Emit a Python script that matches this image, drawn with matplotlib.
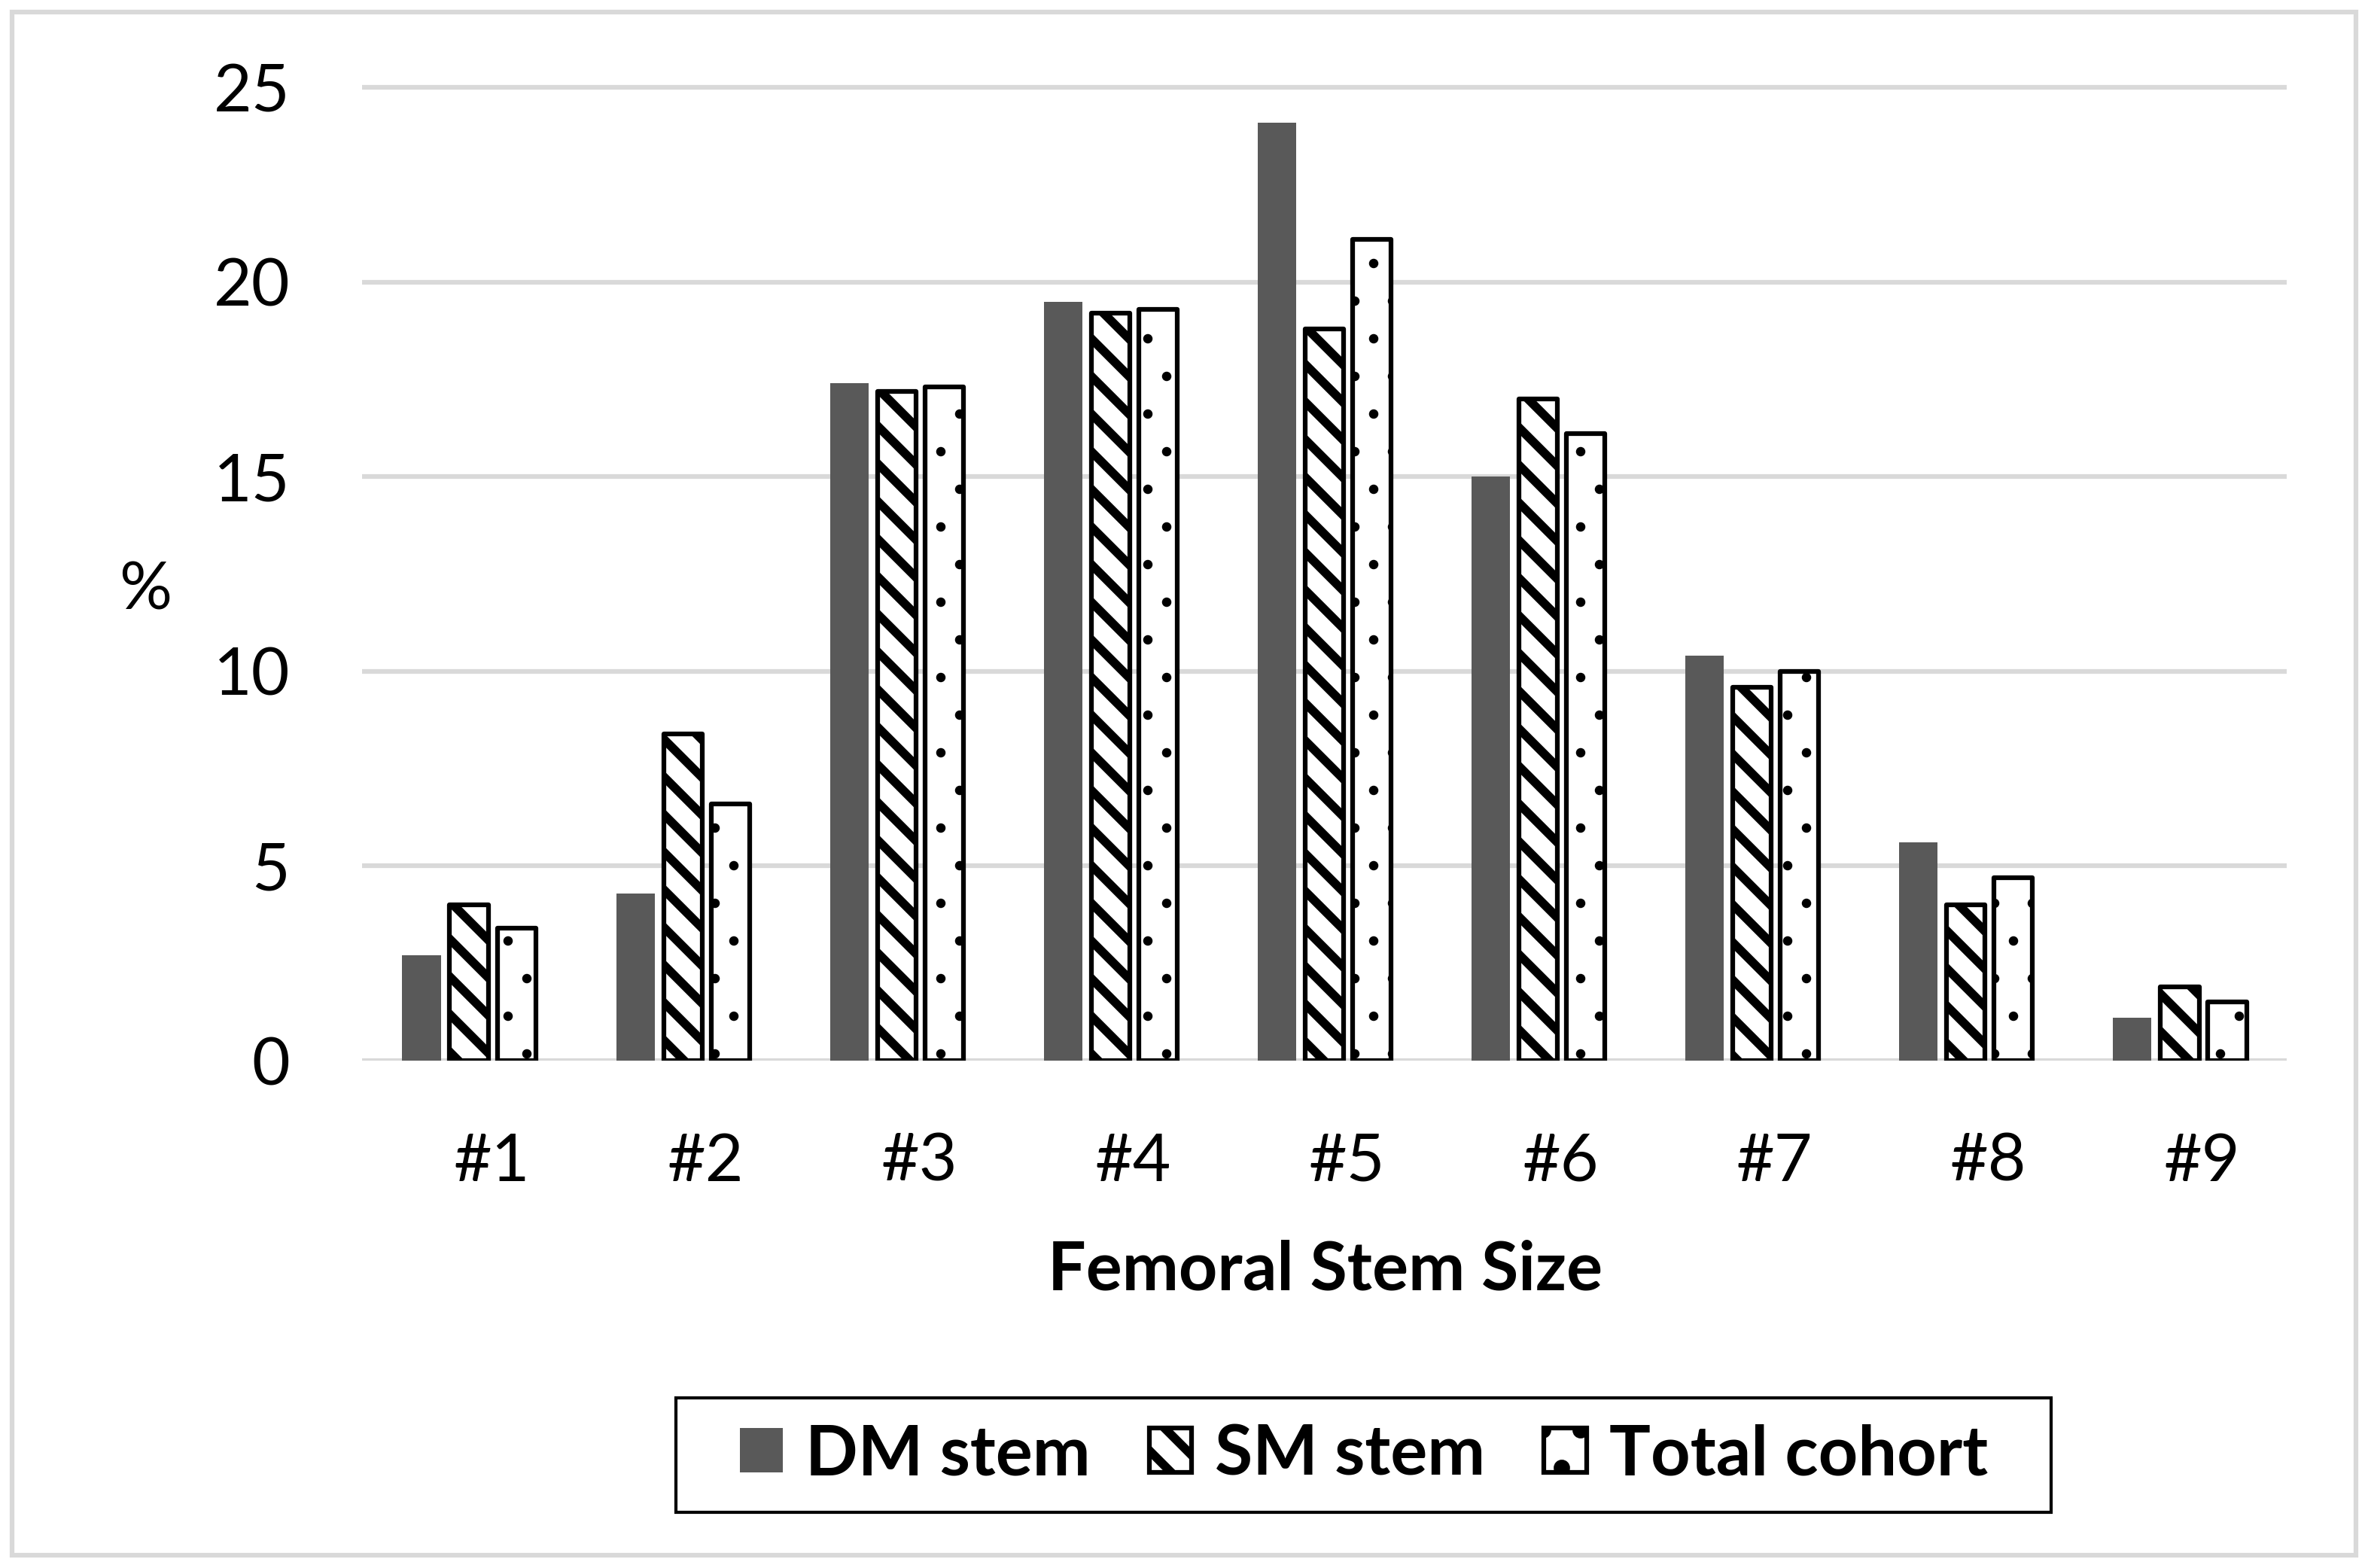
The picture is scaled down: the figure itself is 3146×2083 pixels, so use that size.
import matplotlib.pyplot as plt
import matplotlib.patches as mpatches
import matplotlib.transforms as mtransforms
import numpy as np

plt.rcParams['font.family'] = ['Lato', 'DejaVu Sans']
plt.rcParams['hatch.linewidth'] = 2.8

# data
sizes = ['#1', '#2', '#3', '#4', '#5', '#6', '#7', '#8', '#9']
dm_stem = [2.7, 4.3, 17.4, 19.5, 24.1, 15.0, 10.4, 5.6, 1.1]
sm_stem = [4.0, 8.4, 17.2, 19.2, 18.8, 17.0, 9.6, 4.0, 1.9]
total_cohort = [3.4, 6.6, 17.3, 19.3, 21.1, 16.1, 10.0, 4.7, 1.5]
y_ticks = [0, 5, 10, 15, 20, 25]

W, H = 3146, 2083
fig = plt.figure(figsize=(W / 300, H / 300), dpi=300)
ax = fig.add_axes([481 / W, 1 - 1409 / H, (3038 - 481) / W, (1409 - 111) / H])

x = np.arange(len(sizes))
bw = 0.18
off = 0.222

ax.bar(x - off, dm_stem, bw, color='#595959', label='DM stem', zorder=3)
sm = ax.bar(x, sm_stem, bw, color='white', edgecolor='black', hatch='\\\\',
            linewidth=1.5, label='SM stem', zorder=3)
tot = ax.bar(x + off, total_cohort, bw, color='white', edgecolor='black', hatch='.',
             linewidth=1.5, label='Total cohort', zorder=3)
for p in tot:
    p.set_joinstyle('round')
    if hasattr(p, 'set_hatch_linewidth'):
        p.set_hatch_linewidth(0.6)
for p in sm:
    p.set_joinstyle('round')

ax.set_xlim(-0.5, len(sizes) - 0.5)
ax.set_ylim(0, 25.1)
ax.set_yticks(y_ticks)
ax.set_xticks(x)
ax.set_xticklabels(sizes)
ax.tick_params(length=0, labelsize=21)
ax.tick_params(axis='y', pad=23)
ax.tick_params(axis='x', pad=23)
# the category labels sit a bit right of the bar groups
shift = mtransforms.ScaledTranslation(30 / 300, 0, fig.dpi_scale_trans)
for lab in ax.get_xticklabels():
    lab.set_transform(lab.get_transform() + shift)
ax.grid(axis='y', color='#d9d9d9', linewidth=1.5)
ax.set_axisbelow(True)
for s in ax.spines.values():
    s.set_visible(False)

fig.text(193 / W, 1 - 785 / H, '%', ha='center', va='center', fontsize=21)
fig.text(1761 / W, 1 - 1688 / H, 'Femoral Stem Size', ha='center', va='center',
         fontsize=21.5, fontweight='bold')

leg = fig.legend(loc='center', bbox_to_anchor=(1812 / W, 1 - 1933 / H), ncol=3,
                 prop={'size': 22, 'weight': 'bold'}, frameon=False,
                 handlelength=0.62, handleheight=0.62, borderpad=0,
                 handletextpad=0.33, columnspacing=0.85)

# legend box and outer chart border
fig.patches.append(mpatches.Rectangle((898 / W, 1 - 2009 / H), (2725 - 898) / W, (2009 - 1857) / H,
                                      transform=fig.transFigure, fill=False,
                                      edgecolor='black', linewidth=1.0))
fig.patches.append(mpatches.Rectangle((16 / W, 1 - 2066 / H), (3130 - 16) / W, (2066 - 16) / H,
                                      transform=fig.transFigure, fill=False,
                                      edgecolor='#d9d9d9', linewidth=1.5))

fig.savefig('out.png', dpi=300, facecolor='white')
